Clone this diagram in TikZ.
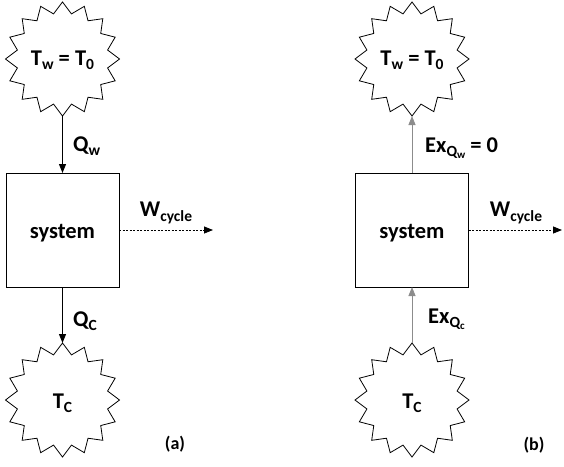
\documentclass[tikz,border=0pt]{standalone}
\usepackage{fontspec}
\setmainfont{Carlito}
\usetikzlibrary{shapes.geometric,arrows.meta}
\newcommand{\subtxt}[1]{\raisebox{-0.4ex}{\fontsize{15.5}{15.5}\selectfont #1}}
\newcommand{\subsubtxt}[1]{\raisebox{-0.25ex}{\fontsize{11}{11}\selectfont #1}}
\definecolor{arrgray}{RGB}{140,140,140}
\begin{document}
\begin{tikzpicture}[x=1pt,y=-1pt,
  every node/.style={font=\fontsize{22.5}{24}\selectfont\bfseries},
  reservoir/.style={draw,star,star points=16,star point ratio=1.24,minimum size=114pt,inner sep=0pt,outer sep=0pt,line width=0.8pt},
  sysbox/.style={draw,rectangle,minimum width=113pt,minimum height=114pt,inner sep=0pt,outer sep=0pt,line width=0.8pt},
  heat/.style={line width=0.8pt,-{Triangle[length=9pt,width=7pt]}},
  exer/.style={line width=0.9pt,draw=arrgray,-{Triangle[length=9pt,width=7pt]},arrgray},
  work/.style={line width=0.8pt,dash pattern=on 2pt off 1.5pt,-{Triangle[length=9pt,width=7pt,fill=black]}},
  lbl/.style={inner sep=0pt,anchor=west},
  tag/.style={font=\fontsize{18}{20}\selectfont\bfseries}]
\useasboundingbox (0,0) rectangle (564,466);
% (a)
\node[reservoir] (aw) at (62.5,59) {};
\node (awt) at (62.5,60) {T\subtxt{w} = T\subtxt{0}};
\node[sysbox] (as) at (62.5,230) {};
\node (ast) at (62.5,233) {system};
\node[reservoir] (ac) at (62.5,400) {};
\node (act) at (62.5,403) {T\subtxt{C}};
\coordinate (aend) at (213,230);
\draw[heat] (aw.south) -- (as.north);
\draw[heat] (as.south) -- (ac.north);
\draw[work] (as.east) -- (aend);
\node[lbl] (aqw) at (73,146) {Q\subtxt{w}};
\node[lbl] (aqc) at (73,321) {Q\subtxt{C}};
\node (awc) at (166,213) {W\subtxt{cycle}};
\node[tag] (alab) at (175,444) {(a)};
% (b)
\node[reservoir] (bw) at (412,59) {};
\node (bwt) at (412,60) {T\subtxt{w} = T\subtxt{0}};
\node[sysbox] (bs) at (412,230) {};
\node (bst) at (412,233) {system};
\node[reservoir] (bc) at (412,400) {};
\node (bct) at (412,403) {T\subtxt{C}};
\coordinate (bend) at (562,230);
\draw[exer] (bs.north) -- (bw.south);
\draw[exer] (bc.north) -- (bs.south);
\draw[work] (bs.east) -- (bend);
\node[lbl] (bqw) at (425,148) {Ex\subtxt{Q\subsubtxt{w}} = 0};
\node[lbl] (bqc) at (428,319) {Ex\subtxt{Q\subsubtxt{c}}};
\node (bwc) at (516,213) {W\subtxt{cycle}};
\node[tag] (blab) at (534,445) {(b)};
\end{tikzpicture}
\end{document}
